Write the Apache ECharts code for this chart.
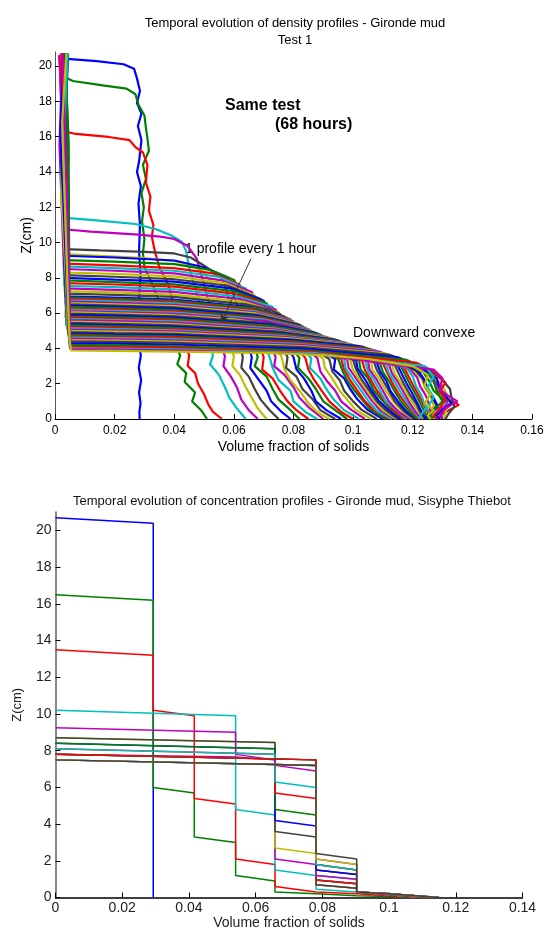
<!DOCTYPE html>
<html>
<head>
<meta charset="utf-8">
<script src="https://cdn.jsdelivr.net/npm/echarts@6.0.0/dist/echarts.min.js"></script>
<style>
  html, body { margin: 0; padding: 0; background: #fff; }
  #chart { width: 548px; height: 932px; }
</style>
</head>
<body>
<div id="chart"></div>
<script>
// matlab default line colours, cycled per profile
var lineColors = ['#0000ff', '#008000', '#ff0000', '#00bfbf', '#bf00bf', '#bfbf00', '#404040'];

var zTicksTop = [0, 2, 4, 6, 8, 10, 12, 14, 16, 18, 20];
var zTicksBottom = [0, 2, 4, 6, 8, 10, 12, 14, 16, 18, 20];

// ---- Test 1 : measured profiles, one per hour  [volume fraction, z(cm)]
var h01 = [[0.0035,20.7],[0.004,20.4],[0.014,20.28],[0.023,20.1],[0.0265,19.85],[0.0275,19.3],[0.0285,18.6],[0.0275,17.9],[0.029,17.3],[0.0278,16.6],[0.029,15.8],[0.0282,14.6],[0.0275,14.0],[0.0288,13.2],[0.028,12.2],[0.0285,11.0],[0.0282,9.5],[0.0287,8.2],[0.0283,7.0],[0.0286,5.5],[0.0282,4.2],[0.0288,3.6],[0.0281,2.9],[0.0289,2.2],[0.0282,1.5],[0.0287,0.9],[0.0283,0.4],[0.0284,0]];
var h02 = [[0.002,20.7],[0.003,20.0],[0.0035,19.35],[0.006,19.15],[0.016,18.9],[0.024,18.72],[0.027,18.4],[0.028,17.8],[0.03,17.2],[0.0305,16.5],[0.031,15.9],[0.0315,15.2],[0.0295,14.4],[0.0305,13.6],[0.029,12.8],[0.0298,12.0],[0.0292,11.2],[0.03,10.2],[0.0295,9.4],[0.03,8.6],[0.033,7.5],[0.036,6.2],[0.039,4.8],[0.042,3.6],[0.041,3.1],[0.044,2.6],[0.0435,2.1],[0.047,1.5],[0.046,1.0],[0.049,0.5],[0.051,0]];
var h03 = [[0.0015,20.6],[0.0025,18.5],[0.003,16.3],[0.007,16.15],[0.018,15.98],[0.025,15.8],[0.027,15.4],[0.0295,15.1],[0.031,14.4],[0.0305,13.4],[0.032,12.6],[0.0315,11.8],[0.033,11.0],[0.0325,10.3],[0.0335,9.5],[0.035,8.6],[0.038,7.6],[0.04,6.4],[0.042,5.0],[0.045,3.6],[0.0445,3.0],[0.047,2.6],[0.048,2.0],[0.05,1.4],[0.0515,0.8],[0.053,0.4],[0.056,0]];
var h04 = [[0.0025,20.7],[0.0035,17.0],[0.002,13.5],[0.0035,11.4],[0.012,11.28],[0.027,11.05],[0.034,10.75],[0.039,10.4],[0.0425,10.05],[0.044,9.5],[0.045,8.6],[0.047,7.4],[0.049,6.2],[0.051,4.8],[0.053,3.6],[0.052,3.1],[0.055,2.5],[0.057,1.8],[0.0585,1.2],[0.061,0.6],[0.064,0]];
var h05 = [[0.003,20.7],[0.002,16.5],[0.0035,13.0],[0.003,10.75],[0.012,10.62],[0.028,10.45],[0.036,10.32],[0.04,10.2],[0.0445,9.8],[0.0475,9.1],[0.049,8.2],[0.051,7.0],[0.053,5.8],[0.055,4.6],[0.057,3.55],[0.0565,3.0],[0.059,2.4],[0.061,1.8],[0.0625,1.1],[0.065,0.5],[0.068,0]];
var h06 = [[0.002,20.5],[0.0035,15.5],[0.0025,11.5],[0.0035,9.35],[0.015,9.25],[0.03,9.12],[0.04,8.95],[0.046,8.7],[0.05,8.3],[0.053,7.6],[0.055,6.6],[0.057,5.4],[0.06,3.55],[0.0595,3.0],[0.062,2.5],[0.064,1.8],[0.066,1.2],[0.068,0.6],[0.071,0]];
var h07 = [[0.004,20.7],[0.0025,17.5],[0.0038,13.0],[0.003,9.62],[0.015,9.55],[0.03,9.47],[0.04,9.38],[0.0455,9.15],[0.049,8.8],[0.0525,8.4],[0.056,8.1],[0.058,7.0],[0.06,5.8],[0.063,3.5],[0.0625,2.9],[0.065,2.4],[0.067,1.7],[0.069,1.1],[0.072,0.5],[0.075,0]];
var h08 = [[0.0025,20.7],[0.0038,15.0],[0.003,9.25],[0.02,9.15],[0.04,8.98],[0.05,8.6],[0.058,8.0],[0.061,6.5],[0.066,3.5],[0.0655,2.9],[0.068,2.3],[0.071,1.6],[0.0725,1.0],[0.076,0.4],[0.079,0]];
var h09 = [[0.0035,20.7],[0.002,16.0],[0.0033,9.0],[0.02,8.92],[0.04,8.78],[0.052,8.45],[0.057,8.1],[0.0602,7.86],[0.063,6.5],[0.068,3.5],[0.067,3.0],[0.071,2.4],[0.073,1.7],[0.075,1.1],[0.079,0.5],[0.082,0]];
var h10 = [[0.0015,20.6],[0.003,14.0],[0.0035,8.8],[0.02,8.7],[0.04,8.55],[0.053,8.25],[0.062,7.6],[0.065,6.0],[0.07,3.5],[0.0695,2.8],[0.073,2.3],[0.0755,1.6],[0.078,1.0],[0.081,0.5],[0.085,0]];
var h11 = [[0.003,20.7],[0.0045,13.0],[0.003,8.65],[0.02,8.55],[0.04,8.4],[0.055,8.05],[0.064,7.4],[0.067,5.8],[0.072,3.5],[0.073,2.9],[0.075,2.2],[0.079,1.6],[0.08,1.0],[0.084,0.4],[0.088,0]];
var h12 = [[0.0025,20.7],[0.0015,15.5],[0.003,8.5],[0.02,8.4],[0.04,8.25],[0.056,7.85],[0.066,7.2],[0.069,5.8],[0.074,3.5],[0.0735,3.0],[0.077,2.5],[0.08,1.8],[0.082,1.2],[0.0855,0.6],[0.09,0]];
var h13 = [[0.004,20.7],[0.0028,14.5],[0.0035,8.3],[0.02,8.22],[0.04,8.08],[0.057,7.7],[0.067,7.0],[0.07,5.6],[0.076,3.5],[0.077,2.8],[0.079,2.2],[0.0825,1.5],[0.085,0.9],[0.088,0.4],[0.092,0]];
var h14 = [[0.002,20.7],[0.0035,16.8],[0.003,8.15],[0.02,8.06],[0.04,7.92],[0.058,7.55],[0.069,6.8],[0.072,5.5],[0.078,3.5],[0.0775,2.9],[0.081,2.4],[0.083,1.7],[0.0865,1.1],[0.089,0.5],[0.094,0]];
var h15 = [[0.003,20.7],[0.0042,12.0],[0.0035,8.0],[0.02,7.9],[0.04,7.78],[0.059,7.4],[0.07,6.7],[0.073,5.4],[0.08,3.5],[0.081,2.8],[0.0835,2.3],[0.086,1.6],[0.0875,1.0],[0.091,0.5],[0.096,0]];
var h16 = [[0.0035,20.7],[0.002,14.0],[0.004,7.85],[0.02,7.76],[0.04,7.63],[0.06,7.25],[0.071,6.55],[0.074,5.3],[0.082,3.45],[0.0815,2.9],[0.085,2.3],[0.0875,1.7],[0.09,1.0],[0.094,0.5],[0.098,0]];
var h17 = [[0.0018,20.6],[0.0032,15.0],[0.0038,7.7],[0.02,7.62],[0.04,7.5],[0.06,7.1],[0.067,6.75],[0.0698,6.54],[0.075,5.2],[0.084,3.45],[0.085,2.8],[0.087,2.2],[0.0895,1.6],[0.092,1.0],[0.096,0.4],[0.1,0]];
var h18 = [[0.0028,20.7],[0.004,13.5],[0.003,7.55],[0.02,7.47],[0.04,7.35],[0.061,6.95],[0.073,6.35],[0.077,5.0],[0.086,3.45],[0.0855,2.9],[0.089,2.3],[0.091,1.7],[0.0935,1.1],[0.097,0.5],[0.102,0]];
var h19 = [[0.0038,20.7],[0.0022,16.0],[0.0035,7.4],[0.02,7.32],[0.04,7.2],[0.062,6.8],[0.074,6.2],[0.078,4.9],[0.088,3.45],[0.089,2.7],[0.091,2.2],[0.094,1.6],[0.096,1.0],[0.0995,0.5],[0.104,0]];
var h20 = [[0.002,20.7],[0.0036,12.5],[0.0032,7.25],[0.02,7.17],[0.04,7.05],[0.063,6.65],[0.075,6.05],[0.079,4.8],[0.09,3.4],[0.0905,2.9],[0.093,2.3],[0.0955,1.6],[0.098,1.1],[0.101,0.5],[0.106,0]];
var h21 = [[0.0032,20.7],[0.0045,14.8],[0.0037,7.1],[0.02,7.03],[0.04,6.92],[0.064,6.5],[0.072,6.2],[0.0757,5.92],[0.08,4.7],[0.092,3.4],[0.093,2.7],[0.0955,2.2],[0.097,1.6],[0.1,1.0],[0.103,0.5],[0.108,0]];
var h22 = [[0.0042,20.7],[0.0025,13.0],[0.0035,6.95],[0.02,6.88],[0.04,6.76],[0.065,6.35],[0.077,5.8],[0.082,4.6],[0.094,3.4],[0.0935,2.8],[0.097,2.3],[0.099,1.7],[0.1015,1.1],[0.105,0.5],[0.11,0]];
var h22b = [[0.0033,20.7],[0.0046,15.6],[0.0036,6.88],[0.02,6.81],[0.04,6.7],[0.066,6.28],[0.078,5.72],[0.083,4.55],[0.095,3.4],[0.0965,2.7],[0.098,2.2],[0.1005,1.6],[0.103,1.1],[0.106,0.5],[0.111,0]];
var h23 = [[0.0025,20.7],[0.004,16.5],[0.0038,6.8],[0.02,6.73],[0.04,6.62],[0.066,6.2],[0.079,5.65],[0.083,4.5],[0.096,3.4],[0.097,2.8],[0.099,2.2],[0.1015,1.6],[0.104,1.0],[0.107,0.5],[0.112,0]];
var h23b = [[0.0021,20.7],[0.0034,14.1],[0.0039,6.72],[0.02,6.66],[0.04,6.55],[0.0665,6.12],[0.0795,5.58],[0.084,4.45],[0.097,3.38],[0.0975,2.85],[0.1,2.25],[0.1025,1.65],[0.105,1.05],[0.108,0.45],[0.113,0]];
var h24 = [[0.0015,20.6],[0.003,13.5],[0.004,6.65],[0.02,6.58],[0.04,6.47],[0.067,6.05],[0.08,5.5],[0.085,4.4],[0.098,3.35],[0.0985,2.9],[0.101,2.3],[0.1035,1.7],[0.106,1.1],[0.109,0.5],[0.114,0]];
var h24b = [[0.0039,20.7],[0.0027,12.9],[0.0041,6.57],[0.02,6.5],[0.04,6.4],[0.0675,5.98],[0.081,5.42],[0.086,4.35],[0.099,3.35],[0.1,2.75],[0.102,2.25],[0.1045,1.65],[0.107,1.05],[0.11,0.5],[0.1145,0]];
var h25 = [[0.0035,20.7],[0.0022,15.2],[0.0036,6.5],[0.02,6.43],[0.04,6.32],[0.068,5.9],[0.082,5.35],[0.087,4.3],[0.1,3.35],[0.101,2.8],[0.103,2.2],[0.1055,1.6],[0.108,1.0],[0.111,0.5],[0.115,0]];
var h25b = [[0.0029,20.7],[0.0043,16.1],[0.0037,6.42],[0.02,6.36],[0.04,6.25],[0.0685,5.84],[0.0825,5.3],[0.088,4.25],[0.101,3.32],[0.1015,2.85],[0.104,2.25],[0.106,1.65],[0.1085,1.05],[0.112,0.5],[0.116,0]];
var h26 = [[0.0028,20.7],[0.0045,12.2],[0.0038,6.35],[0.02,6.28],[0.04,6.17],[0.069,5.78],[0.083,5.25],[0.089,4.2],[0.102,3.3],[0.1025,2.8],[0.105,2.3],[0.107,1.6],[0.1095,1.1],[0.113,0.5],[0.117,0]];
var h26b = [[0.0019,20.7],[0.0035,13.4],[0.0039,6.27],[0.02,6.2],[0.04,6.1],[0.0695,5.7],[0.084,5.17],[0.09,4.15],[0.103,3.3],[0.104,2.75],[0.106,2.2],[0.108,1.6],[0.1105,1.05],[0.1135,0.5],[0.1175,0]];
var h27 = [[0.004,20.7],[0.0028,14.3],[0.0037,6.2],[0.02,6.13],[0.04,6.03],[0.07,5.64],[0.085,5.1],[0.091,4.1],[0.104,3.3],[0.105,2.7],[0.107,2.2],[0.109,1.6],[0.111,1.0],[0.1145,0.5],[0.118,0]];
var h27b = [[0.0034,20.7],[0.0022,15.9],[0.004,6.12],[0.02,6.06],[0.04,5.96],[0.0705,5.56],[0.0855,5.03],[0.092,4.05],[0.105,3.27],[0.1055,2.8],[0.108,2.2],[0.11,1.6],[0.112,1.0],[0.115,0.45],[0.119,0]];
var h28 = [[0.0022,20.7],[0.0038,15.8],[0.004,6.05],[0.02,5.98],[0.04,5.88],[0.06,5.65],[0.075,5.3],[0.0863,4.97],[0.093,4.0],[0.106,3.25],[0.1065,2.8],[0.109,2.2],[0.111,1.6],[0.1135,1.0],[0.116,0.5],[0.12,0]];
var h28b = [[0.0041,20.7],[0.0029,12.3],[0.0041,5.97],[0.02,5.91],[0.04,5.82],[0.0715,5.43],[0.087,4.91],[0.094,3.95],[0.107,3.22],[0.108,2.75],[0.11,2.2],[0.112,1.6],[0.114,1.0],[0.117,0.45],[0.1205,0]];
var h29 = [[0.0036,20.7],[0.0024,13.8],[0.0038,5.9],[0.02,5.84],[0.04,5.75],[0.072,5.35],[0.088,4.85],[0.095,3.9],[0.108,3.2],[0.109,2.7],[0.111,2.2],[0.1125,1.6],[0.115,1.0],[0.118,0.4],[0.121,0]];
var h29b = [[0.0024,20.7],[0.0037,14.9],[0.0039,5.82],[0.02,5.76],[0.04,5.68],[0.0725,5.28],[0.089,4.78],[0.096,3.85],[0.109,3.18],[0.11,2.65],[0.112,2.15],[0.114,1.55],[0.116,1.0],[0.119,0.4],[0.1215,0]];
var h30 = [[0.003,20.7],[0.0042,11.5],[0.0036,5.75],[0.02,5.69],[0.04,5.6],[0.073,5.2],[0.09,4.7],[0.097,3.8],[0.11,3.15],[0.1115,2.6],[0.113,2.1],[0.115,1.5],[0.117,1.0],[0.12,0.4],[0.122,0]];
var h30b = [[0.0037,20.7],[0.0023,16.4],[0.0041,5.67],[0.02,5.61],[0.04,5.53],[0.0735,5.13],[0.091,4.65],[0.098,3.78],[0.111,3.12],[0.112,2.6],[0.114,2.1],[0.116,1.5],[0.118,0.95],[0.1205,0.4],[0.1225,0]];
var h31 = [[0.0018,20.6],[0.0035,16.2],[0.0042,5.6],[0.02,5.54],[0.04,5.46],[0.074,5.07],[0.092,4.6],[0.099,3.75],[0.112,3.1],[0.113,2.6],[0.115,2.1],[0.117,1.5],[0.119,0.9],[0.121,0.4],[0.123,0]];
var h31b = [[0.0027,20.7],[0.0045,13.1],[0.0042,5.52],[0.02,5.46],[0.04,5.38],[0.0745,5.0],[0.093,4.55],[0.1,3.72],[0.113,3.08],[0.114,2.55],[0.116,2.05],[0.118,1.45],[0.12,0.9],[0.122,0.4],[0.1235,0]];
var h32 = [[0.0038,20.7],[0.0026,12.8],[0.004,5.45],[0.02,5.39],[0.04,5.31],[0.075,4.95],[0.094,4.5],[0.101,3.7],[0.114,3.05],[0.1155,2.5],[0.117,2.0],[0.119,1.4],[0.121,0.9],[0.1225,0.4],[0.124,0]];
var h32b = [[0.0044,20.7],[0.0031,15.3],[0.004,5.37],[0.02,5.32],[0.04,5.24],[0.0755,4.88],[0.095,4.45],[0.102,3.65],[0.115,3.02],[0.1165,2.5],[0.118,2.0],[0.12,1.4],[0.1215,0.9],[0.123,0.4],[0.1245,0]];
var h33 = [[0.0025,20.7],[0.0042,14.6],[0.0038,5.3],[0.02,5.25],[0.04,5.17],[0.076,4.82],[0.096,4.4],[0.103,3.6],[0.116,3.0],[0.1175,2.5],[0.119,2.0],[0.121,1.4],[0.1225,0.9],[0.124,0.4],[0.125,0]];
var h33b = [[0.0021,20.7],[0.0036,12.7],[0.0041,5.22],[0.02,5.17],[0.04,5.1],[0.0765,4.76],[0.097,4.35],[0.104,3.55],[0.117,2.95],[0.1185,2.45],[0.12,1.95],[0.122,1.35],[0.1235,0.85],[0.125,0.4],[0.1255,0]];
var h34 = [[0.0042,20.7],[0.003,16.6],[0.004,5.15],[0.02,5.1],[0.04,5.03],[0.077,4.7],[0.098,4.3],[0.105,3.5],[0.118,2.9],[0.12,2.4],[0.121,1.9],[0.123,1.3],[0.124,0.8],[0.1255,0.4],[0.126,0]];
var h34b = [[0.0035,20.7],[0.0024,14.2],[0.0043,5.07],[0.02,5.02],[0.04,4.96],[0.0775,4.64],[0.099,4.25],[0.1075,3.5],[0.119,2.85],[0.1215,2.35],[0.1225,1.85],[0.1245,1.3],[0.1255,0.8],[0.126,0.4],[0.1265,0]];
var h35 = [[0.002,20.7],[0.0036,13.2],[0.0042,5.0],[0.02,4.95],[0.04,4.89],[0.078,4.58],[0.1,4.2],[0.11,3.5],[0.12,2.8],[0.123,2.3],[0.124,1.8],[0.126,1.3],[0.127,0.8],[0.1265,0.4],[0.127,0]];
var h35b = [[0.0027,20.7],[0.0043,16.0],[0.0044,4.92],[0.02,4.87],[0.04,4.82],[0.079,4.51],[0.1015,4.15],[0.1115,3.47],[0.121,2.75],[0.1235,2.25],[0.1245,1.75],[0.1265,1.25],[0.128,0.75],[0.126,0.35],[0.1255,0]];
var h36 = [[0.0032,20.7],[0.0046,12.4],[0.0045,4.85],[0.02,4.8],[0.04,4.75],[0.08,4.45],[0.103,4.1],[0.113,3.45],[0.122,2.7],[0.124,2.2],[0.125,1.7],[0.127,1.2],[0.1285,0.7],[0.126,0.3],[0.124,0]];
var h36b = [[0.004,20.7],[0.0028,13.5],[0.0045,4.78],[0.02,4.73],[0.04,4.68],[0.0805,4.39],[0.1045,4.02],[0.1145,3.4],[0.1235,2.65],[0.1255,2.15],[0.127,1.6],[0.13,1.15],[0.132,0.75],[0.1285,0.35],[0.126,0]];
var h37 = [[0.0038,20.7],[0.0025,15.4],[0.0046,4.7],[0.02,4.66],[0.04,4.61],[0.081,4.33],[0.106,3.95],[0.116,3.35],[0.125,2.6],[0.127,2.1],[0.129,1.5],[0.132,1.1],[0.1355,0.8],[0.131,0.4],[0.128,0]];
var h37b = [[0.0023,20.7],[0.0039,15.1],[0.0047,4.62],[0.02,4.58],[0.04,4.53],[0.0815,4.26],[0.1075,3.88],[0.117,3.3],[0.1255,2.55],[0.1275,2.05],[0.1295,1.45],[0.1315,1.0],[0.13,0.5],[0.129,0]];
var h38 = [[0.0015,20.6],[0.004,14.0],[0.0048,4.55],[0.02,4.51],[0.04,4.46],[0.082,4.2],[0.109,3.8],[0.118,3.25],[0.126,2.5],[0.128,2.0],[0.13,1.4],[0.132,0.9],[0.129,0.5],[0.13,0]];
var h38b = [[0.0033,20.7],[0.0021,12.8],[0.0048,4.47],[0.02,4.44],[0.04,4.39],[0.0825,4.13],[0.1105,3.72],[0.1195,3.17],[0.1265,2.55],[0.129,2.1],[0.131,1.55],[0.1325,1.05],[0.131,0.4],[0.1305,0]];
var h39 = [[0.003,20.7],[0.0044,12.0],[0.0048,4.4],[0.02,4.37],[0.04,4.32],[0.083,4.07],[0.112,3.65],[0.121,3.1],[0.127,2.6],[0.13,2.2],[0.1325,1.7],[0.133,1.2],[0.134,0.7],[0.132,0.3],[0.131,0]];
var h40 = [[0.0028,20.7],[0.0018,16.2],[0.0048,4.3],[0.02,4.27],[0.04,4.22],[0.084,3.97],[0.115,3.5],[0.123,2.9],[0.128,2.3],[0.129,1.8],[0.131,1.3],[0.133,0.9],[0.13,0.5],[0.128,0.2],[0.129,0]];
var h41 = [[0.0036,20.7],[0.0045,14.8],[0.005,4.2],[0.02,4.17],[0.04,4.12],[0.085,3.88],[0.118,3.35],[0.125,2.8],[0.127,2.2],[0.128,1.6],[0.13,1.0],[0.127,0.5],[0.125,0]];
var h42 = [[0.0022,20.7],[0.0038,13.6],[0.005,4.1],[0.02,4.07],[0.04,4.03],[0.086,3.8],[0.121,3.2],[0.127,2.7],[0.131,2.05],[0.129,1.6],[0.131,1.1],[0.129,0.6],[0.127,0.2],[0.128,0]];
var h43 = [[0.0042,20.7],[0.0028,15.0],[0.005,4.02],[0.02,3.99],[0.04,3.95],[0.087,3.73],[0.124,3.0],[0.127,2.4],[0.125,1.8],[0.127,1.2],[0.125,0.7],[0.123,0.3],[0.122,0]];
var h44 = [[0.0026,20.7],[0.004,12.6],[0.0052,3.96],[0.02,3.93],[0.04,3.89],[0.088,3.67],[0.127,2.8],[0.13,2.3],[0.129,1.7],[0.132,1.3],[0.135,1.0],[0.131,0.6],[0.129,0.2],[0.13,0]];
var h45 = [[0.0038,20.7],[0.0024,16.8],[0.0045,6.0],[0.005,4.3],[0.0055,3.88],[0.02,3.86],[0.04,3.82],[0.07,3.75],[0.09,3.62],[0.105,3.4],[0.12,3.0],[0.125,2.5],[0.124,1.9],[0.126,1.4],[0.124,0.9],[0.127,0.5],[0.125,0.2],[0.126,0]];

var measuredProfiles = [h01,h02,h03,h04,h05,h06,h07,h08,h09,h10,h11,h12,h13,h14,h15,h16,h17,h18,h19,h20,h21,
    h22,h22b,h23,h23b,h24,h24b,h25,h25b,h26,h26b,h27,h27b,h28,h28b,h29,h29b,h30,h30b,h31,h31b,h32,h32b,
    h33,h33b,h34,h34b,h35,h35b,h36,h36b,h37,h37b,h38,h38b,h39,h40,h41,h42,h43,h44,h45];

// ---- Sisyphe model : staircase profiles  [volume fraction, z(cm)]
var s01 = [[0,20.7],[0.0293,20.4],[0.0293,0]];
var s02 = [[0,16.5],[0.0293,16.2],[0.0293,6.0],[0.0416,5.7],[0.0416,3.3],[0.054,3.0],[0.054,1.2],[0.0658,0.9],[0.0658,0.3],[0.0781,0.2],[0.0903,0.1],[0.1,0.05],[0.108,0]];
var s03 = [[0,13.5],[0.0293,13.2],[0.0293,10.2],[0.0416,9.9],[0.0416,5.4],[0.054,5.1],[0.054,2.1],[0.0658,1.8],[0.0658,0.6],[0.0781,0.3],[0.0903,0.2],[0.1,0.1],[0.11,0]];
var s04 = [[0,10.2],[0.054,9.9],[0.054,4.8],[0.0658,4.5],[0.0658,1.5],[0.0781,1.2],[0.0781,0.45],[0.0903,0.3],[0.1,0.15],[0.112,0]];
var s05 = [[0,9.25],[0.054,9.0],[0.054,7.8],[0.0658,7.5],[0.0658,2.1],[0.0781,1.8],[0.0781,0.7],[0.0903,0.5],[0.0903,0.3],[0.1,0.15],[0.11,0]];
var s06 = [[0,8.7],[0.0658,8.45],[0.0658,2.7],[0.0781,2.4],[0.0781,0.7],[0.0903,0.5],[0.0903,0.3],[0.1,0.15],[0.11,0]];
var s07 = [[0,8.7],[0.0658,8.45],[0.0658,3.6],[0.0781,3.3],[0.0781,0.7],[0.0903,0.5],[0.0903,0.3],[0.1,0.17],[0.112,0]];
var s08 = [[0,8.4],[0.0658,8.1],[0.0658,4.2],[0.0781,3.9],[0.0781,0.95],[0.0903,0.75],[0.0903,0.3],[0.1,0.17],[0.112,0]];
var s09 = [[0,8.4],[0.0658,8.1],[0.0658,4.8],[0.0781,4.5],[0.0781,0.95],[0.0903,0.75],[0.0903,0.3],[0.1,0.18],[0.113,0]];
var s10 = [[0,8.1],[0.0658,7.8],[0.0658,5.7],[0.0781,5.4],[0.0781,0.95],[0.0903,0.75],[0.0903,0.3],[0.1,0.18],[0.113,0]];
var s11 = [[0,8.1],[0.0658,7.8],[0.0658,6.3],[0.0781,6.0],[0.0781,1.2],[0.0903,1.0],[0.0903,0.3],[0.1,0.18],[0.114,0]];
var s12 = [[0,7.8],[0.054,7.65],[0.0658,7.5],[0.0658,7.2],[0.0781,6.9],[0.0781,1.2],[0.0903,1.0],[0.0903,0.3],[0.1,0.19],[0.114,0]];
var s13 = [[0,7.8],[0.0781,7.5],[0.0781,1.5],[0.0903,1.25],[0.0903,0.3],[0.1,0.2],[0.114,0]];
var s14 = [[0,7.5],[0.0658,7.25],[0.0781,7.2],[0.0781,1.5],[0.0903,1.25],[0.0903,0.3],[0.1,0.2],[0.114,0]];
var s15 = [[0,7.8],[0.0781,7.5],[0.0781,1.5],[0.0903,1.25],[0.0903,0.3],[0.1,0.2],[0.115,0]];
var s16 = [[0,7.8],[0.0781,7.5],[0.0781,1.8],[0.0903,1.5],[0.0903,0.3],[0.1,0.2],[0.115,0]];
var s17 = [[0,7.8],[0.0781,7.5],[0.0781,1.8],[0.0903,1.5],[0.0903,0.3],[0.1,0.2],[0.115,0]];
var s18 = [[0,7.5],[0.0658,7.25],[0.0781,7.2],[0.0781,1.8],[0.0903,1.5],[0.0903,0.3],[0.1,0.2],[0.115,0]];
var s19 = [[0,7.5],[0.0658,7.25],[0.0781,7.2],[0.0781,2.1],[0.0903,1.8],[0.0903,0.3],[0.1,0.2],[0.115,0]];
var s20 = [[0,7.5],[0.0658,7.25],[0.0781,7.2],[0.0781,2.1],[0.0903,1.8],[0.0903,0.3],[0.1,0.2],[0.115,0]];
var s21 = [[0,7.5],[0.0658,7.25],[0.0781,7.2],[0.0781,2.4],[0.0903,2.1],[0.0903,0.3],[0.1,0.2],[0.115,0]];

var modelProfiles = [s01,s02,s03,s04,s05,s06,s07,s08,s09,s10,s11,s12,s13,s14,s15,s16,s17,s18,s19,s20,s21];

// arrow of the "1 profile every 1 hour" note, in data units
var arrowFrom = [0.0657, 9.07];
var arrowTo = [0.0557, 5.44];

var FONT = '"Liberation Sans", Arial, sans-serif';

function buildSeries(profiles, gridIdx, width) {
    var list = [];
    for (var i = 0; i < profiles.length; i++) {
        list.push({
            type: 'line',
            xAxisIndex: gridIdx,
            yAxisIndex: gridIdx,
            data: profiles[i],
            showSymbol: false,
            symbol: 'none',
            silent: true,
            lineStyle: { width: width, color: lineColors[i % 7] }
        });
    }
    return list;
}

var seriesData = buildSeries(measuredProfiles, 0, 2.2).concat(buildSeries(modelProfiles, 1, 1.5));

seriesData[measuredProfiles.length - 1].markLine = {
    silent: true,
    symbol: ['none', 'arrow'],
    symbolSize: [7, 9],
    label: { show: false },
    lineStyle: { color: '#333', width: 1, type: 'solid' },
    data: [[{ coord: arrowFrom }, { coord: arrowTo }]]
};

var chartDom = document.getElementById('chart');
var myChart = echarts.init(chartDom);
var option;

option = {
    animation: false,
    backgroundColor: '#fff',
    textStyle: { fontFamily: FONT },
    title: [
        {
            text: 'Temporal evolution of density profiles - Gironde mud\nTest 1',
            left: 290, top: 10, textAlign: 'center',
            textStyle: { fontSize: 13, fontWeight: 'normal', color: '#000', fontFamily: FONT, lineHeight: 17 }
        },
        {
            text: 'Temporal evolution of concentration profiles - Gironde mud, Sisyphe Thiebot',
            left: 287, top: 490, textAlign: 'center',
            textStyle: { fontSize: 13, fontWeight: 'normal', color: '#111', fontFamily: FONT }
        }
    ],
    grid: [
        { left: 55, top: 51.9, width: 477, height: 367.1 },
        { left: 55.5, top: 512.15, width: 467, height: 385.35 }
    ],
    xAxis: [
        {
            type: 'value', gridIndex: 0, min: 0, max: 0.16, interval: 0.02,
            name: 'Volume fraction of solids', nameLocation: 'middle', nameGap: 21,
            nameTextStyle: { fontSize: 14, color: '#000' },
            axisLine: { show: true, lineStyle: { color: '#000', width: 1 } },
            axisTick: { inside: true, length: 5, lineStyle: { color: '#000' } },
            axisLabel: { fontSize: 12, color: '#000', margin: 6 },
            splitLine: { show: false }
        },
        {
            type: 'value', gridIndex: 1, min: 0, max: 0.14, interval: 0.02,
            name: 'Volume fraction of solids', nameLocation: 'middle', nameGap: 16,
            nameTextStyle: { fontSize: 14, color: '#222' },
            axisLine: { show: true, lineStyle: { color: '#000', width: 1.5 } },
            axisTick: { inside: true, length: 5, lineStyle: { color: '#000' } },
            axisLabel: { fontSize: 14, color: '#222', margin: 4 },
            splitLine: { show: false }
        }
    ],
    yAxis: [
        {
            type: 'value', gridIndex: 0, min: 0, max: 20.8,
            name: 'Z(cm)', nameLocation: 'middle', nameGap: 21, nameMoveOverlap: false,
            nameTextStyle: { fontSize: 14, color: '#000' },
            axisLine: { show: true, lineStyle: { color: '#555', width: 1 } },
            axisTick: { inside: true, length: 5, customValues: zTicksTop, lineStyle: { color: '#000' } },
            axisLabel: { fontSize: 12, color: '#000', margin: 3, customValues: zTicksTop },
            splitLine: { show: false }
        },
        {
            type: 'value', gridIndex: 1, min: 0, max: 21,
            name: 'Z(cm)', nameLocation: 'middle', nameGap: 32, nameMoveOverlap: false,
            nameTextStyle: { fontSize: 13, color: '#222' },
            axisLine: { show: true, lineStyle: { color: '#888', width: 2 } },
            axisTick: { inside: true, length: 5, customValues: zTicksBottom, lineStyle: { color: '#000' } },
            axisLabel: { fontSize: 14, color: '#222', margin: 4, customValues: zTicksBottom },
            splitLine: { show: false }
        }
    ],
    graphic: [
        { type: 'text', left: 225, top: 98, style: { text: 'Same test', font: 'bold 16px ' + FONT, fill: '#000' } },
        { type: 'text', left: 275, top: 117, style: { text: '(68 hours)', font: 'bold 16px ' + FONT, fill: '#000' } },
        { type: 'text', left: 185, top: 242, style: { text: '1 profile every 1 hour', font: '14px ' + FONT, fill: '#000' } },
        { type: 'text', left: 353, top: 326, style: { text: 'Downward convexe', font: '14px ' + FONT, fill: '#000' } }
    ],
    series: seriesData
};

option && myChart.setOption(option);
</script>
</body>
</html>
